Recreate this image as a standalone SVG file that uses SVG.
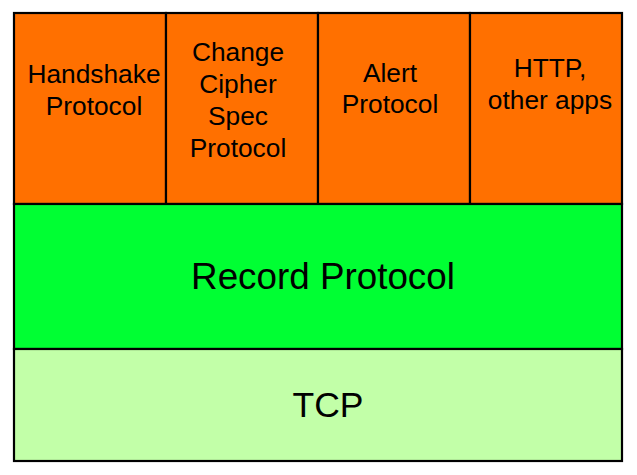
<svg xmlns="http://www.w3.org/2000/svg" width="637" height="475" viewBox="0 0 637 475">
  <style>
    .box { stroke: #000000; stroke-width: 2.2; }
    .app { fill: #FF7000; }
    .rec { fill: #00FF33; }
    .tcp { fill: #C2FFA8; }
    text { font-family: "Liberation Sans", Arial, sans-serif; fill: #000000; text-anchor: middle; }
    .sm { font-size: 26.3px; }
    .lg { font-size: 36.8px; }
    .tc { font-size: 35.5px; }
  </style>
  <rect width="637" height="475" fill="#FFFFFF"/>

  <!-- application-layer protocols -->
  <g id="handshake">
    <rect class="box app" x="14" y="13" width="152" height="191"/>
    <text class="sm" x="94" y="83">Handshake</text>
    <text class="sm" x="94" y="115">Protocol</text>
  </g>
  <g id="change-cipher-spec">
    <rect class="box app" x="166" y="13" width="152" height="191"/>
    <text class="sm" x="238" y="61">Change</text>
    <text class="sm" x="238" y="93">Cipher</text>
    <text class="sm" x="238" y="125">Spec</text>
    <text class="sm" x="238" y="157">Protocol</text>
  </g>
  <g id="alert">
    <rect class="box app" x="318" y="13" width="152" height="191"/>
    <text class="sm" x="390" y="82">Alert</text>
    <text class="sm" x="390" y="113">Protocol</text>
  </g>
  <g id="http">
    <rect class="box app" x="470" y="13" width="152" height="191"/>
    <text class="sm" x="550" y="77">HTTP,</text>
    <text class="sm" x="550" y="109">other apps</text>
  </g>

  <!-- record layer -->
  <g id="record">
    <rect class="box rec" x="14" y="204" width="608" height="145"/>
    <text class="lg" x="323" y="289">Record Protocol</text>
  </g>

  <!-- transport -->
  <g id="tcp">
    <rect class="box tcp" x="14" y="349" width="608" height="112"/>
    <text class="tc" x="328" y="417">TCP</text>
  </g>

  <g id="connectors"/>
</svg>
